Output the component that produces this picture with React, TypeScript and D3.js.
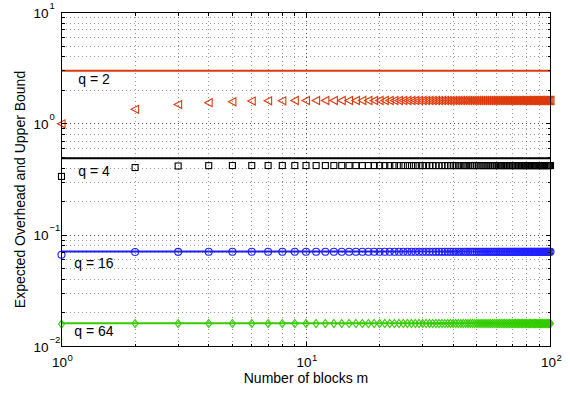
import React from 'react';
import * as d3 from 'd3';

// number of blocks m on the x axis
const blocks = d3.range(1, 101);

// expected overhead (m = 1 .. 100)
const overheadQ2 = [
  1.00, 1.35, 1.49, 1.55, 1.58, 1.60, 1.61, 1.61, 1.62, 1.62,
  1.62, 1.62, 1.62, 1.62, 1.62, 1.62, 1.62, 1.62, 1.62, 1.62,
  1.62, 1.62, 1.62, 1.62, 1.62, 1.62, 1.62, 1.62, 1.62, 1.62,
  1.62, 1.62, 1.62, 1.62, 1.62, 1.62, 1.62, 1.62, 1.62, 1.62,
  1.62, 1.62, 1.62, 1.62, 1.62, 1.62, 1.62, 1.62, 1.62, 1.62,
  1.62, 1.62, 1.62, 1.62, 1.62, 1.62, 1.62, 1.62, 1.62, 1.62,
  1.62, 1.62, 1.62, 1.62, 1.62, 1.62, 1.62, 1.62, 1.62, 1.62,
  1.62, 1.62, 1.62, 1.62, 1.62, 1.62, 1.62, 1.62, 1.62, 1.62,
  1.62, 1.62, 1.62, 1.62, 1.62, 1.62, 1.62, 1.62, 1.62, 1.62,
  1.62, 1.62, 1.62, 1.62, 1.62, 1.62, 1.62, 1.62, 1.62, 1.62,
];
const overheadQ4 = [
  0.337, 0.405, 0.418, 0.421, 0.422, 0.422, 0.422, 0.422, 0.422, 0.422,
  0.422, 0.422, 0.422, 0.422, 0.422, 0.422, 0.422, 0.422, 0.422, 0.422,
  0.422, 0.422, 0.422, 0.422, 0.422, 0.422, 0.422, 0.422, 0.422, 0.422,
  0.422, 0.422, 0.422, 0.422, 0.422, 0.422, 0.422, 0.422, 0.422, 0.422,
  0.422, 0.422, 0.422, 0.422, 0.422, 0.422, 0.422, 0.422, 0.422, 0.422,
  0.422, 0.422, 0.422, 0.422, 0.422, 0.422, 0.422, 0.422, 0.422, 0.422,
  0.422, 0.422, 0.422, 0.422, 0.422, 0.422, 0.422, 0.422, 0.422, 0.422,
  0.422, 0.422, 0.422, 0.422, 0.422, 0.422, 0.422, 0.422, 0.422, 0.422,
  0.422, 0.422, 0.422, 0.422, 0.422, 0.422, 0.422, 0.422, 0.422, 0.422,
  0.422, 0.422, 0.422, 0.422, 0.422, 0.422, 0.422, 0.422, 0.422, 0.422,
];
const overheadQ16 = [
  0.0667, 0.0706, 0.0708, 0.0709, 0.0709, 0.0709, 0.0709, 0.0709, 0.0709, 0.0709,
  0.0709, 0.0709, 0.0709, 0.0709, 0.0709, 0.0709, 0.0709, 0.0709, 0.0709, 0.0709,
  0.0709, 0.0709, 0.0709, 0.0709, 0.0709, 0.0709, 0.0709, 0.0709, 0.0709, 0.0709,
  0.0709, 0.0709, 0.0709, 0.0709, 0.0709, 0.0709, 0.0709, 0.0709, 0.0709, 0.0709,
  0.0709, 0.0709, 0.0709, 0.0709, 0.0709, 0.0709, 0.0709, 0.0709, 0.0709, 0.0709,
  0.0709, 0.0709, 0.0709, 0.0709, 0.0709, 0.0709, 0.0709, 0.0709, 0.0709, 0.0709,
  0.0709, 0.0709, 0.0709, 0.0709, 0.0709, 0.0709, 0.0709, 0.0709, 0.0709, 0.0709,
  0.0709, 0.0709, 0.0709, 0.0709, 0.0709, 0.0709, 0.0709, 0.0709, 0.0709, 0.0709,
  0.0709, 0.0709, 0.0709, 0.0709, 0.0709, 0.0709, 0.0709, 0.0709, 0.0709, 0.0709,
  0.0709, 0.0709, 0.0709, 0.0709, 0.0709, 0.0709, 0.0709, 0.0709, 0.0709, 0.0709,
];
const overheadQ64 = [
  0.0159, 0.0161, 0.0161, 0.0161, 0.0161, 0.0161, 0.0161, 0.0161, 0.0161, 0.0161,
  0.0161, 0.0161, 0.0161, 0.0161, 0.0161, 0.0161, 0.0161, 0.0161, 0.0161, 0.0161,
  0.0161, 0.0161, 0.0161, 0.0161, 0.0161, 0.0161, 0.0161, 0.0161, 0.0161, 0.0161,
  0.0161, 0.0161, 0.0161, 0.0161, 0.0161, 0.0161, 0.0161, 0.0161, 0.0161, 0.0161,
  0.0161, 0.0161, 0.0161, 0.0161, 0.0161, 0.0161, 0.0161, 0.0161, 0.0161, 0.0161,
  0.0161, 0.0161, 0.0161, 0.0161, 0.0161, 0.0161, 0.0161, 0.0161, 0.0161, 0.0161,
  0.0161, 0.0161, 0.0161, 0.0161, 0.0161, 0.0161, 0.0161, 0.0161, 0.0161, 0.0161,
  0.0161, 0.0161, 0.0161, 0.0161, 0.0161, 0.0161, 0.0161, 0.0161, 0.0161, 0.0161,
  0.0161, 0.0161, 0.0161, 0.0161, 0.0161, 0.0161, 0.0161, 0.0161, 0.0161, 0.0161,
  0.0161, 0.0161, 0.0161, 0.0161, 0.0161, 0.0161, 0.0161, 0.0161, 0.0161, 0.0161,
];

// upper bound per q (flat lines)
const qLabels = ['q = 2', 'q = 4', 'q = 16', 'q = 64'];
const upperBounds = [3.0, 0.49, 0.0712, 0.0162];
const seriesColors = ['#dc3a0c', '#000000', '#1f1fff', '#33cc00'];
const markerKinds = ['triangle-left', 'square', 'circle', 'diamond'];

const xMajor = [1, 10, 100];
const yMajor = [0.01, 0.1, 1, 10];

const W = 570, H = 395;
const M = { left: 61.5, right: 550.5, top: 12.5, bottom: 346.5 };
const FONT = '"Liberation Sans", Arial, Helvetica, sans-serif';

// snap to pixel centre so thin dotted lines stay crisp
const snap = (v: number) => Math.round(v - 0.5) + 0.5;

const Marker = ({ kind, x, y, color }: any) => {
  if (kind === 'triangle-left') {
    return <path d={`M${x - 4},${y} L${x + 3.5},${y - 4} L${x + 3.5},${y + 4} Z`} fill="none" stroke={color} strokeWidth={1.1} />;
  }
  if (kind === 'square') {
    return <rect x={x - 3} y={y - 3} width={6} height={6} fill="none" stroke={color} strokeWidth={1.1} />;
  }
  if (kind === 'circle') {
    return <circle cx={x} cy={y} r={3.5} fill="none" stroke={color} strokeWidth={1.1} />;
  }
  return <path d={`M${x},${y - 4} L${x + 3},${y} L${x},${y + 4} L${x - 3},${y} Z`} fill="none" stroke={color} strokeWidth={1.1} />;
};

const App = () => {
  const x = d3.scaleLog().domain([1, 100]).range([M.left, M.right]);
  const y = d3.scaleLog().domain([0.01, 10]).range([M.bottom, M.top]);

  const series = [overheadQ2, overheadQ4, overheadQ16, overheadQ64];
  const labelY = [84, 176, 268, 336];

  const xTicks = x.ticks(); // 1..9, 10..90, 100
  const yTicks = y.ticks();
  const isMajor = (v: number) => Math.abs(Math.log10(v) - Math.round(Math.log10(v))) < 1e-9;

  const line = d3.line<number>().x(d => x(d)).y(0);

  return (
    <svg width={W} height={H} style={{ position: 'absolute', left: 0, top: 0, background: '#fff' }} fontFamily={FONT}>
      <rect x={0} y={0} width={W} height={H} fill="#fff" />
      {/* grid */}
      <g shapeRendering="crispEdges">
        {xTicks.filter(t => t > 1 && t < 100).map((t, i) => (
          <line key={'gx' + i} x1={snap(x(t))} x2={snap(x(t))} y1={M.top} y2={M.bottom}
            stroke="#000" strokeOpacity={isMajor(t) ? 0.7 : 0.4} strokeWidth={1} strokeDasharray="1 3" />
        ))}
        {yTicks.filter(t => t > 0.01 && t < 10).map((t, i) => (
          <line key={'gy' + i} x1={M.left} x2={M.right} y1={snap(y(t))} y2={snap(y(t))}
            stroke="#000" strokeOpacity={isMajor(t) ? 0.7 : 0.4} strokeWidth={1} strokeDasharray="1 3" />
        ))}
      </g>

      {/* upper bounds */}
      {upperBounds.map((b, i) => (
        <path key={'b' + i} d={line([1, 100]) || ''} transform={`translate(0,${y(b)})`}
          stroke={seriesColors[i]} strokeWidth={2} fill="none" />
      ))}

      {/* expected overhead markers */}
      {series.map((vals, si) => (
        <g key={'s' + si}>
          {vals.map((v, i) => (
            <Marker key={i} kind={markerKinds[si]} x={x(blocks[i])} y={y(v)} color={seriesColors[si]} />
          ))}
        </g>
      ))}

      {/* curve labels */}
      {qLabels.map((l, i) => (
        <text key={'l' + i} x={94} y={labelY[i]} textAnchor="middle" fontSize={14} fill="#000">{l}</text>
      ))}

      {/* box and ticks */}
      <g shapeRendering="crispEdges">
        <rect x={M.left} y={M.top} width={M.right - M.left} height={M.bottom - M.top} fill="none" stroke="#000" strokeWidth={1} />
        {xTicks.map((t, i) => {
          const len = isMajor(t) ? 5 : 3;
          const xx = snap(x(t));
          return (
            <g key={'tx' + i} stroke="#000" strokeWidth={1}>
              <line x1={xx} x2={xx} y1={M.bottom} y2={M.bottom - len} />
              <line x1={xx} x2={xx} y1={M.top} y2={M.top + len} />
            </g>
          );
        })}
        {yTicks.map((t, i) => {
          const len = isMajor(t) ? 5 : 3;
          const yy = snap(y(t));
          return (
            <g key={'ty' + i} stroke="#000" strokeWidth={1}>
              <line x1={M.left} x2={M.left + len} y1={yy} y2={yy} />
              <line x1={M.right} x2={M.right - len} y1={yy} y2={yy} />
            </g>
          );
        })}
      </g>

      {/* tick labels */}
      {xMajor.map((t, i) => (
        <g key={'xl' + i} fill="#000">
          <text x={x(t) + 5.5} y={367} textAnchor="end" fontSize={13.5}>10</text>
          <text x={x(t) + 6} y={361} fontSize={9.5}>{Math.round(Math.log10(t))}</text>
        </g>
      ))}
      {yMajor.map((t, i) => {
        const e = Math.round(Math.log10(t));
        return (
          <g key={'yl' + i} fill="#000">
            <text x={48.5} y={y(t) + 5} textAnchor="end" fontSize={13.5}>10</text>
            <text x={49.5} y={y(t) - 4} fontSize={9.5}>{e < 0 ? '\u2212' + Math.abs(e) : String(e)}</text>
          </g>
        );
      })}

      {/* axis titles */}
      <text x={(M.left + M.right) / 2} y={383} textAnchor="middle" fontSize={14} fill="#000">Number of blocks m</text>
      <text transform={`translate(24.5,${(M.top + M.bottom) / 2 + 10}) rotate(-90)`} textAnchor="middle" fontSize={14} fill="#000">Expected Overhead and Upper Bound</text>
    </svg>
  );
};

export default App;
